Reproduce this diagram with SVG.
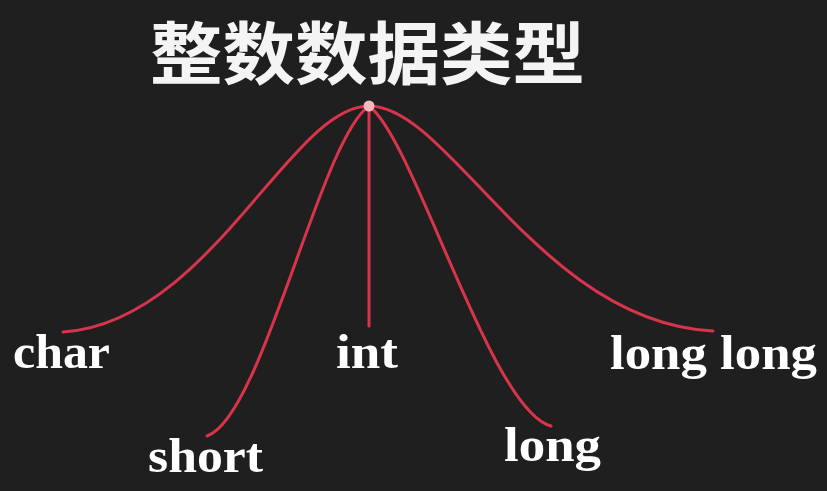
<svg xmlns="http://www.w3.org/2000/svg" width="827" height="491" viewBox="0 0 827 491">
<style>
.lbl{font-family:"Liberation Serif","DejaVu Serif",serif;font-weight:bold;font-size:49px;fill:#ffffff}
.ttl{font-family:"Noto Sans CJK SC","Noto Sans",sans-serif;font-weight:bold;font-size:68px;fill:#f4f4f4}
.edge{fill:none;stroke:#d8344b;stroke-width:3;stroke-linecap:round}
</style>
<rect width="827" height="491" fill="#1f1f1f"/>
<g id="title"><text class="ttl" x="150" y="79" textLength="435" lengthAdjust="spacingAndGlyphs">整数数据类型</text></g>
<g id="connectors">
<path class="edge" d="M369,106 C290,106 210,322 63,332"/>
<path class="edge" d="M369,106 C320,140 262,418 207,436"/>
<path class="edge" d="M369,106 L369,326"/>
<path class="edge" d="M369,106 C415,140 490,410 551,426"/>
<path class="edge" d="M369,106 C450,106 540,322 713,331"/>
</g>
<g id="root"><circle cx="369" cy="106" r="5.5" fill="#f6b8bf"/></g>
<g id="char"><text class="lbl" x="13" y="368" textLength="97" lengthAdjust="spacingAndGlyphs">char</text></g>
<g id="short"><text class="lbl" x="148" y="472" textLength="115" lengthAdjust="spacingAndGlyphs">short</text></g>
<g id="int"><text class="lbl" x="336" y="368" textLength="62" lengthAdjust="spacingAndGlyphs">int</text></g>
<g id="long"><text class="lbl" x="504" y="461" textLength="97" lengthAdjust="spacingAndGlyphs">long</text></g>
<g id="longlong"><text class="lbl" x="610" y="369" textLength="207" lengthAdjust="spacingAndGlyphs">long long</text></g>
</svg>
